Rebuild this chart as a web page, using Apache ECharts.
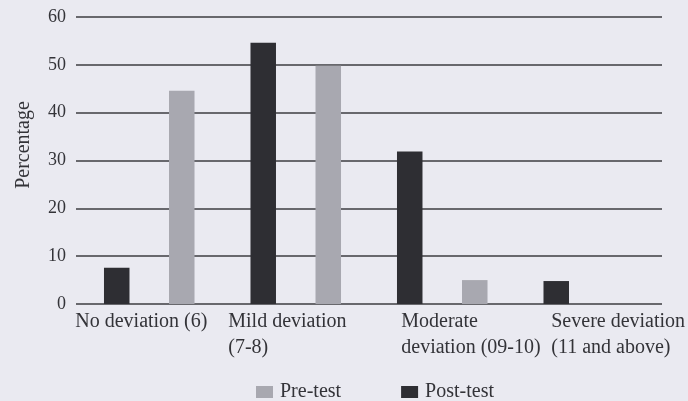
<!DOCTYPE html>
<html>
<head>
<meta charset="utf-8">
<script src="https://cdn.jsdelivr.net/npm/echarts@6/dist/echarts.min.js"></script>
<style>
  html, body { margin: 0; padding: 0; background: #eaeaf1; }
  #chart { width: 688px; height: 401px; }
</style>
</head>
<body>
<div id="chart"></div>
<script>
// Deviation groups (x axis), each split into text lines
const categories = [
  ['No deviation (6)'],
  ['Mild deviation', '(7-8)'],
  ['Moderate', 'deviation (09-10)'],
  ['Severe deviation', '(11 and above)']
];
// Percentage of participants in each group
const postTest = [7.6, 54.6, 31.9, 4.8];
const preTest = [44.6, 49.8, 5.0, 0];
const yTicks = { min: 0, max: 60, step: 10 };

// Width of the left-aligned text box under each category
const labelBoxWidths = [148, 135, 82, 75];

const FONT = '"Liberation Serif", "DejaVu Serif", serif';
const TEXT = '#333338';

const rich = {};
labelBoxWidths.forEach((w, i) => {
  rich['c' + i] = {
    width: w, align: 'left', fontFamily: FONT, fontSize: 20,
    color: TEXT, lineHeight: 26
  };
});

const chart = echarts.init(document.getElementById('chart'));
chart.setOption({
  backgroundColor: '#eaeaf1',
  animation: false,
  textStyle: { fontFamily: FONT },
  grid: { left: 76, right: 26, top: 17, bottom: 97, outerBoundsMode: 'none' },
  legend: {
    data: ['Pre-test', 'Post-test'],
    left: 256,
    top: 382,
    padding: 0,
    itemWidth: 17,
    itemHeight: 12,
    itemGap: 60,
    icon: 'rect',
    textStyle: { fontFamily: FONT, fontSize: 20, color: TEXT, padding: [0, 0, 0, 2] }
  },
  xAxis: {
    type: 'category',
    data: categories.map(c => c.join('\n')),
    axisLine: { show: false },
    axisTick: { show: false },
    axisLabel: {
      interval: 0,
      margin: 5,
      formatter: (value, idx) => value.split('\n').map(l => '{c' + idx + '|' + l + '}').join('\n'),
      rich: rich
    }
  },
  yAxis: {
    type: 'value',
    min: yTicks.min,
    max: yTicks.max,
    interval: yTicks.step,
    name: 'Percentage',
    nameLocation: 'middle',
    nameGap: 42,
    nameTextStyle: { fontFamily: FONT, fontSize: 20, color: TEXT, padding: [0, 0, 0, 31] },
    axisLine: { show: false },
    axisTick: { show: false },
    axisLabel: { margin: 10, fontFamily: FONT, fontSize: 18, color: TEXT },
    splitLine: { lineStyle: { color: '#3d3d40', width: 1.5 } }
  },
  series: [
    {
      name: 'Post-test',
      type: 'bar',
      data: postTest,
      barWidth: 25.5,
      barGap: '155%',
      itemStyle: { color: '#2e2e33' }
    },
    {
      name: 'Pre-test',
      type: 'bar',
      data: preTest,
      barWidth: 25.5,
      itemStyle: { color: '#a8a8b0' }
    }
  ]
});
</script>
</body>
</html>
